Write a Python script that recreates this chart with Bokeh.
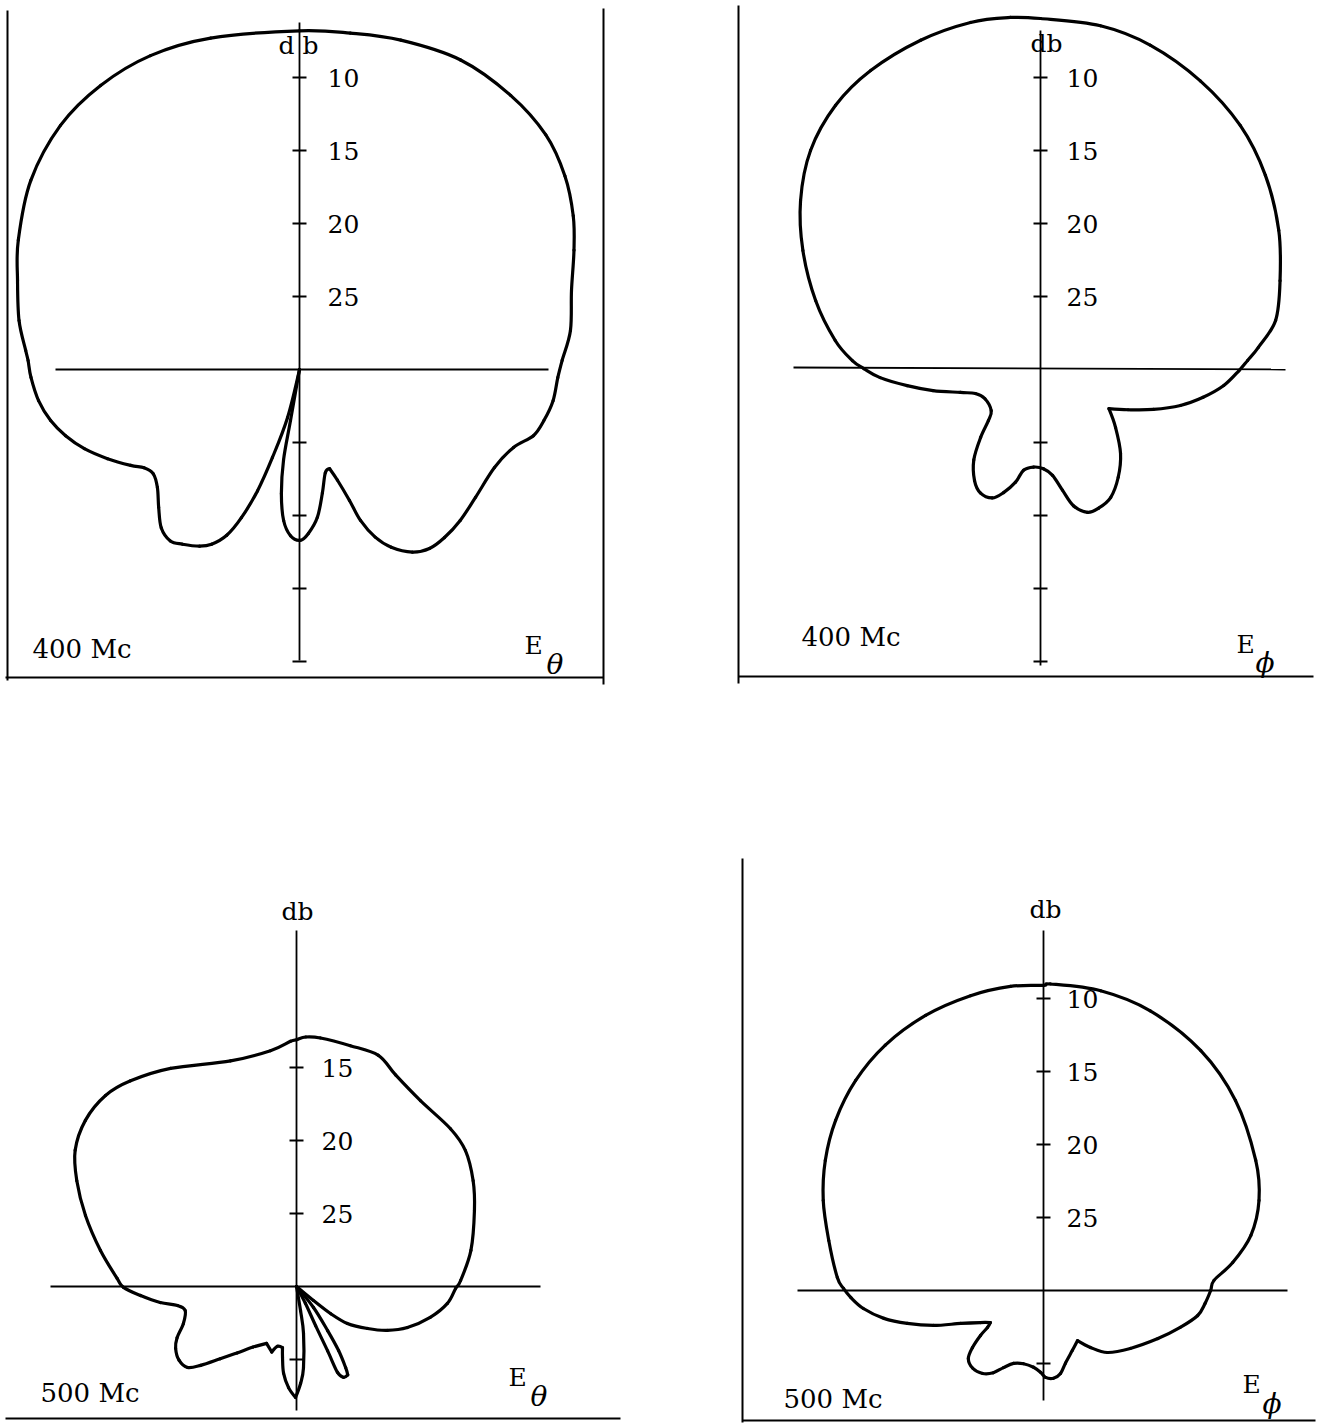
import numpy as np
from bokeh.plotting import figure
from bokeh.layouts import column, row
from bokeh.models import Label, Range1d
from bokeh.embed import file_html
from bokeh.resources import INLINE

# Radiation patterns: level (db) against direction (degrees, clockwise from the
# vertical axis).  The origin of each polar trace is the 30 db floor.
FLOOR_DB = 30.0
PX_PER_DB = 14.6

e_theta_400_deg = [0, 8.6, 17.1, 27.5, 37.6, 46.4, 53.9, 60.7, 66.5, 73.8, 81.8, 88.0,
                   91.8, 97.0, 101.8, 105.8, 110.0, 116.7, 126.0, 133.2, 139.2, 144.0,
                   148.3, 152.7, 155.7, 158.0, 159.1, 161.1, 163.1, 166.0, 169.5, 173.1,
                   176.9, 179.7, 183.1, 186.0, 188.3, 190.0, 190.0, 192.0, 194.0, 197.1,
                   199.1, 201.4, 203.7, 206.7, 209.5, 213.8, 217.0, 221.1, 225.6, 230.3,
                   234.5, 237.7, 240.4, 245.1, 249.8, 254.2, 258.4, 263.2, 268.3, 271.9,
                   274.0, 279.9, 287.5, 294.7, 305.1, 315.6, 325.0, 334.6, 345.0]
e_theta_400_db = [6.8, 6.7, 6.4, 6.1, 6.3, 6.7, 7.5, 8.5, 9.5, 10.6, 11.25, 12.0,
                  12.3, 12.5, 12.9, 13.35, 14.4, 15.05, 15.1, 14.9, 14.8, 14.85,
                  15.3, 16.3, 17.4, 18.85, 20.4, 22.0, 22.9, 22.7, 21.4, 19.8,
                  18.75, 18.3, 18.6, 19.6, 21.4, 23.7, 26.45, 30.0, 26.6, 23.7,
                  21.2, 19.1, 17.6, 16.6, 16.1, 15.6, 15.3, 15.6, 16.5, 17.35,
                  17.7, 17.4, 16.7, 15.5, 14.3, 13.35, 12.6, 12.0, 11.6, 11.4,
                  11.2, 10.5, 9.75, 8.8, 7.5, 6.6, 6.25, 6.2, 6.5]

e_phi_400_deg = [0, 9.9, 18.75, 28.97, 39.3, 49.2, 59.7, 69.65, 78.2, 84.2, 87.5, 90.3,
                 95.0, 99.7, 104.4, 109.5, 114.7, 119.8, 127.7, 136.4, 144.2, 151.3,
                 157.35, 161.8, 166.4, 169.7, 173.5, 178.3, 184.1, 189.55, 192.5, 196.7,
                 200.6, 206.0, 210.7, 216.4, 221.4, 225.55, 230.1, 242.2, 249.7, 254.0,
                 258.9, 263.1, 267.1, 270.3, 272.7, 278.05, 287.0, 296.6, 305.15, 313.6,
                 322.2, 330.4, 340.0, 348.6, 355.1]
e_phi_400_db = [5.96, 6.1, 6.55, 7.4, 8.4, 9.65, 11.1, 12.5, 13.55, 15.0, 15.8, 16.4,
                17.4, 18.7, 20.1, 21.8, 23.4, 24.6, 23.5, 22.05, 20.9, 20.0,
                19.7, 19.7, 20.4, 21.6, 22.7, 23.2, 23.3, 23.0, 22.1, 21.2,
                20.6, 20.6, 21.15, 22.3, 23.8, 25.0, 25.6, 25.7, 25.25, 24.3,
                22.5, 20.8, 19.0, 17.9, 17.1, 15.8, 13.9, 11.8, 9.9, 8.25,
                7.1, 6.45, 6.0, 5.75, 5.8]

e_theta_500_deg = [0, 2.1, 5.5, 12.6, 19.5, 25.1, 33.7, 44.3, 51.2, 59.1, 66.9, 78.3,
                   87.9, 90.7, 96.4, 103.0, 110.3, 115.8, 120.6, 126.0, 128.45, 129.5,
                   140.0, 141.0, 144.8, 146.7, 148.8, 149.9, 152.7, 154.5, 154.2, 154.0,
                   152.1, 160.0, 170.5, 171.5, 175.1, 177.6, 180.5, 184.5, 188.5, 191.15,
                   192.9, 197.6, 200.7, 207.8, 215.6, 221.8, 226.55, 230.55, 233.4, 237.9,
                   242.9, 246.8, 251.9, 257.8, 260.9, 263.3, 266.7, 269.7, 272.6, 280.4,
                   288.6, 295.7, 301.6, 308.2, 315.0, 321.1, 330.0, 343.7, 353.7, 358.6]
e_theta_500_db = [13.1, 12.9, 12.9, 13.1, 13.2, 14.0, 14.7, 14.9, 15.15, 15.9, 16.75, 17.8,
                  18.75, 19.1, 19.6, 20.6, 21.9, 23.1, 24.35, 25.7, 27.0, 28.5,
                  30.0, 28.15, 26.3, 24.75, 23.5, 23.0, 23.0, 23.5, 25.1, 27.0,
                  28.7, 30.0, 28.3, 26.75, 24.4, 23.35, 22.4, 23.05, 24.0, 25.05,
                  25.7, 25.7, 25.2, 25.6, 24.9, 23.9, 22.8, 21.5, 20.7, 20.5,
                  20.7, 21.1, 21.85, 22.2, 21.75, 20.6, 19.3, 18.15, 17.7, 16.35,
                  14.75, 13.3, 12.2, 11.6, 11.5, 11.9, 12.75, 13.9, 13.75, 13.2]

e_phi_500_deg = [0, 1.3, 10.8, 20.9, 33.2, 45.3, 58.5, 67.3, 75.1, 81.6, 86.6, 90.0,
                 94.6, 99.2, 105.1, 112.8, 123.7, 134.1, 140.5, 145.8, 154.2, 163.2,
                 168.4, 173.5, 178.7, 182.1, 187.4, 195.3, 202.3, 207.45, 211.4, 216.3,
                 222.3, 227.8, 231.2, 234.5, 236.55, 238.9, 243.1, 248.3, 252.35, 256.4,
                 260.1, 264.3, 267.9, 270.6, 273.6, 283.1, 292.25, 300.8, 309.3, 318.2,
                 327.2, 336.8, 346.1, 353.8]
e_phi_500_db = [9.1, 9.0, 9.1, 9.5, 10.35, 11.5, 12.95, 14.0, 15.3, 16.9, 18.3, 18.55,
                18.9, 19.3, 20.3, 21.5, 22.85, 23.9, 24.95, 25.85, 25.45, 24.8,
                24.2, 23.95, 24.05, 24.4, 24.7, 24.8, 24.6, 24.05, 23.4, 22.95,
                22.8, 23.05, 23.75, 24.7, 25.4, 25.75, 25.15, 23.9, 22.1, 20.4,
                18.9, 17.6, 16.8, 16.3, 15.85, 14.9, 13.7, 12.6, 11.6, 10.7,
                10.0, 9.5, 9.2, 9.05]

# db marks on the vertical axis: (levels above the origin, levels below it)
ticks_400 = ([10, 15, 20, 25], [10, 15, 20, 25])
ticks_500_theta = ([15, 20, 25], [25])
ticks_500_phi = ([10, 15, 20, 25], [25])

FONT = "DejaVu Serif"

# Page layout in pixels: frame = (left, top, width, height), center = pattern origin.
PANELS = [
    dict(frame=(0, 0, 660, 712), center=(299, 369),
         deg=e_theta_400_deg, db=e_theta_400_db, ticks=ticks_400,
         rules=[((7, 10), (7, 680)), ((603, 8), (603, 684)), ((5, 677), (603, 677))],
         hline=((55, 369), (548, 369)), vaxis=(22, 660), label_dx=28,
         db_label=("d b", 298, 45), freq=("400 Mc", 32, 648),
         pol=("θ", 524, 645, 546, 664)),
    dict(frame=(660, 0, 661, 712), center=(1040, 369),
         deg=e_phi_400_deg, db=e_phi_400_db, ticks=ticks_400,
         rules=[((738, 5), (738, 683)), ((738, 676), (1313, 676))],
         hline=((793, 367), (1285, 369)), vaxis=(30, 665), label_dx=26,
         db_label=("db", 1046, 43), freq=("400 Mc", 801, 636),
         pol=("ϕ", 1236, 644, 1255, 662)),
    dict(frame=(0, 712, 660, 713), center=(296, 1286),
         deg=e_theta_500_deg, db=e_theta_500_db, ticks=ticks_500_theta,
         rules=[((5, 1418), (620, 1418))],
         hline=((50, 1286), (540, 1286)), vaxis=(930, 1410), label_dx=25,
         db_label=("db", 297, 911), freq=("500 Mc", 40, 1392),
         pol=("θ", 508, 1377, 530, 1396)),
    dict(frame=(660, 712, 661, 713), center=(1043, 1290),
         deg=e_phi_500_deg, db=e_phi_500_db, ticks=ticks_500_phi,
         rules=[((742, 858), (742, 1422)), ((742, 1420), (1315, 1420))],
         hline=((797, 1290), (1287, 1290)), vaxis=(930, 1400), label_dx=23,
         db_label=("db", 1045, 909), freq=("500 Mc", 783, 1398),
         pol=("ϕ", 1242, 1384, 1262, 1403)),
]


def smooth_segments(xs, ys, corner_deg=70.0):
    """Cubic Bezier pieces through a closed trace; sharp bends stay sharp."""
    n = len(xs)
    pts = np.column_stack([xs, ys])
    tang = np.zeros_like(pts)
    for i in range(n):
        prev_p, cur, next_p = pts[i - 1], pts[i], pts[(i + 1) % n]
        a, b = cur - prev_p, next_p - cur
        na, nb = np.hypot(*a), np.hypot(*b)
        if na < 1e-9 or nb < 1e-9 or np.hypot(*cur) < 1e-9:
            continue
        turn = np.degrees(np.arccos(np.clip(np.dot(a, b) / (na * nb), -1, 1)))
        if turn > corner_deg:
            continue
        tang[i] = (next_p - prev_p) / 2.0
    nxt = np.roll(np.arange(n), -1)
    p0, p1 = pts, pts[nxt]
    c0 = p0 + tang / 3.0
    c1 = p1 - tang[nxt] / 3.0
    return p0, p1, c0, c1


def make_panel(spec):
    fx, fy, w, h = spec["frame"]
    cx, cy = spec["center"]
    lx, ly = cx - fx, cy - fy

    def ux(px):
        return (px - cx) / PX_PER_DB

    def uy(py):
        return (cy - py) / PX_PER_DB

    p = figure(width=w, height=h,
               x_range=Range1d(-lx / PX_PER_DB, (w - lx) / PX_PER_DB),
               y_range=Range1d(-(h - ly) / PX_PER_DB, ly / PX_PER_DB),
               output_backend="svg", toolbar_location=None,
               x_axis_location=None, y_axis_location=None, min_border=0)
    p.grid.visible = False
    p.outline_line_color = None
    p.background_fill_color = "white"
    p.border_fill_color = "white"

    # frame rules and reference lines
    for (x0, y0), (x1, y1) in spec["rules"]:
        p.line([ux(x0), ux(x1)], [uy(y0), uy(y1)], line_color="black", line_width=2)
    (hx0, hy0), (hx1, hy1) = spec["hline"]
    p.line([ux(hx0), ux(hx1)], [uy(hy0), uy(hy1)], line_color="black", line_width=1.8)
    vt, vb = spec["vaxis"]
    p.line([0, 0], [uy(vt), uy(vb)], line_color="black", line_width=1.8)

    # db marks
    up, down = spec["ticks"]
    ty = [FLOOR_DB - v for v in up] + [-(FLOOR_DB - v) for v in down]
    half = 7 / PX_PER_DB
    p.segment(x0=[-half] * len(ty), y0=ty, x1=[half] * len(ty), y1=ty,
              line_color="black", line_width=2)
    for v in up:
        p.add_layout(Label(x=spec["label_dx"] / PX_PER_DB, y=FLOOR_DB - v, text=str(v),
                           text_font=FONT, text_font_size="25px",
                           text_baseline="middle", text_align="left",
                           text_color="black"))

    # pattern trace
    th = np.radians(np.asarray(spec["deg"], dtype=float))
    r = FLOOR_DB - np.asarray(spec["db"], dtype=float)
    xs, ys = r * np.sin(th), r * np.cos(th)
    p0, p1, c0, c1 = smooth_segments(xs, ys)
    p.bezier(x0=p0[:, 0], y0=p0[:, 1], x1=p1[:, 0], y1=p1[:, 1],
             cx0=c0[:, 0], cy0=c0[:, 1], cx1=c1[:, 0], cy1=c1[:, 1],
             line_color="black", line_width=3.2, line_cap="round")

    # captions
    txt, tx, tyy = spec["db_label"]
    p.add_layout(Label(x=ux(tx), y=uy(tyy), text=txt, text_font=FONT,
                       text_font_size="25px", text_align="center",
                       text_baseline="middle", text_color="black"))
    txt, tx, tyy = spec["freq"]
    p.add_layout(Label(x=ux(tx), y=uy(tyy), text=txt, text_font=FONT,
                       text_font_size="26px", text_align="left",
                       text_baseline="middle", text_color="black"))
    sym, ex, ey, sx, sy = spec["pol"]
    p.add_layout(Label(x=ux(ex), y=uy(ey), text="E", text_font=FONT,
                       text_font_size="25px", text_align="left",
                       text_baseline="middle", text_color="black"))
    p.add_layout(Label(x=ux(sx), y=uy(sy), text=sym, text_font=FONT,
                       text_font_style="italic", text_font_size="28px",
                       text_align="left", text_baseline="middle", text_color="black"))
    return p


figs = [make_panel(s) for s in PANELS]
page = column(row(figs[0], figs[1]), row(figs[2], figs[3]))

open("out.html", "w").write(file_html(page, INLINE))
